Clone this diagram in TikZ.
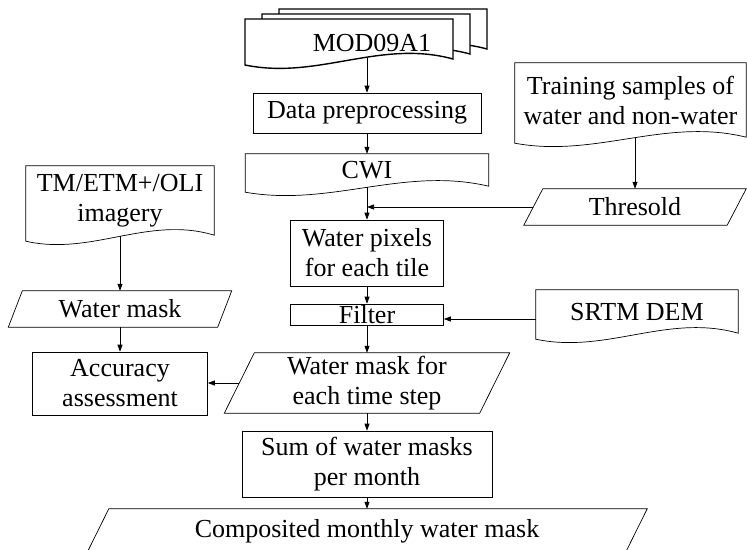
\documentclass[tikz,border=0pt]{standalone}
\usepackage{fontspec}
\setmainfont{Liberation Serif}
\usetikzlibrary{arrows.meta,calc}

\begin{document}
\begin{tikzpicture}[x=1pt, y=-1pt,
    proc/.style={rectangle, draw, inner sep=0pt, align=center,
                 font=\fontsize{26}{30}\selectfont, line width=0.7pt},
    iobox/.style={rectangle, inner sep=0pt, align=center,
                  font=\fontsize{26}{30}\selectfont},
    docbox/.style={iobox},
    arr/.style={-{Triangle[length=7pt, width=5pt]}, line width=0.7pt}
  ]
  \path[use as bounding box, clip] (0,0) rectangle (747,549);

  % stacked input files
  \foreach \d in {2,1,0}
    \draw[line width=1.4pt, fill=white, shift={(17*\d,-5*\d)}]
      (245,19) -- (453,19) -- (453,59)
      .. controls (380,39) and (318,80) .. (245,65) -- cycle;
  \node[iobox, minimum height=30pt] (mod) at (372,43) {MOD09A1};

  \node[proc, minimum width=228pt, minimum height=40pt] (prep) at (367,113) {Data preprocessing};
  \node[docbox, minimum width=243pt, minimum height=33pt] (cwi) at (367,170.5) {CWI};
  \node[docbox, minimum width=231pt, minimum height=75pt] (train) at (630.5,100.5)
    {Training samples of\\water and non-water};
  \node[iobox, minimum width=203pt, minimum height=36pt] (thr) at (635,207) {Thresold};
  \node[docbox, minimum width=188pt, minimum height=70pt] (tm) at (120,201)
    {TM/ETM+/OLI\\imagery};
  \node[iobox, minimum width=209pt, minimum height=36pt] (wm) at (120,309) {Water mask};
  \node[proc, minimum width=153pt, minimum height=66pt] (pix) at (367,253)
    {Water pixels\\for each tile};
  \node[proc, minimum width=153pt, minimum height=21pt] (filter) at (367,314.5) {Filter};
  \node[docbox, minimum width=202pt, minimum height=44pt] (srtm) at (637,312) {SRTM DEM};
  \node[iobox, minimum width=255pt, minimum height=60pt] (wmt) at (367,383)
    {Water mask for\\each time step};
  \node[proc, minimum width=175pt, minimum height=63pt] (acc) at (120,383.5)
    {Accuracy\\assessment};
  \node[proc, minimum width=250pt, minimum height=66pt] (sum) at (367,464)
    {Sum of water masks\\per month};
  \node[iobox, minimum width=538pt, minimum height=44pt] (comp) at (367,531)
    {Composited monthly water mask};

  % document outlines
  \foreach \n in {cwi,train,tm,srtm}
    \draw[line width=0.7pt] (\n.north west) -- (\n.north east) -- ($(\n.south east)+(0,-1)$)
      .. controls ($(\n.south west)!0.65!(\n.south east)+(0,-21)$)
      and ($(\n.south west)!0.35!(\n.south east)+(0,20)$) .. ($(\n.south west)+(0,5)$) -- cycle;
  % slanted data boxes
  \foreach \n/\s in {thr/9.5,wm/7,wmt/15,comp/11}
    \draw[line width=0.7pt] ($(\n.north west)+(\s,0)$) -- ($(\n.north east)+(\s,0)$)
      -- ($(\n.south east)+(-\s,0)$) -- ($(\n.south west)+(-\s,0)$) -- cycle;

  \draw[arr] (mod.south -| prep) -- (prep);
  \draw[arr] (prep) -- (cwi);
  \draw[arr] (cwi) -- (pix);
  \draw[arr] (thr |- train.south) -- (thr);
  \draw[arr] (thr.west) -- (thr.west -| pix.north);
  \draw[arr] (pix) -- (filter);
  \draw[arr] ([yshift=-7pt]srtm.west) -- ([yshift=-7pt]srtm.west -| filter.east);
  \draw[arr] (filter) -- (wmt);
  \draw[arr] (wmt.west) -- (wmt.west -| acc.east);
  \draw[arr] (tm) -- (wm);
  \draw[arr] (wm) -- (acc);
  \draw[arr] (wmt) -- (sum);
  \draw[arr] (sum) -- (comp);
\end{tikzpicture}
\end{document}
